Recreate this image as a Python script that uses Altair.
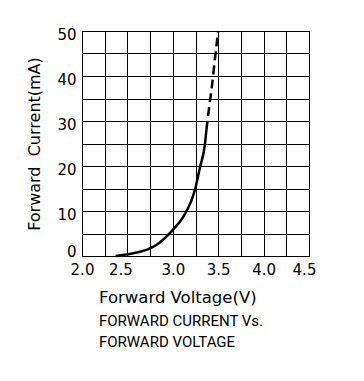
import altair as alt
import pandas as pd

# Solid (measured) part of the curve
solid_v = [2.37, 2.45, 2.565, 2.65, 2.75, 2.85, 3.0, 3.115, 3.245, 3.30, 3.355, 3.37]
solid_i = [0.0, 0.2, 0.6, 1.0, 1.7, 2.9, 5.8, 8.7, 14.8, 19.8, 25.0, 28.0]
# Dashed (extrapolated) part
dash_v = [3.37, 3.40, 3.43, 3.465, 3.50]
dash_i = [28.0, 33.0, 37.6, 44.0, 50.0]

x_grid = [2.0, 2.25, 2.5, 2.75, 3.0, 3.25, 3.5, 3.75, 4.0, 4.25, 4.5]
y_grid = [0, 5, 10, 15, 20, 25, 30, 35, 40, 45, 50]
caption = ["Forward Voltage(V)", "FORWARD CURRENT Vs.", "FORWARD VOLTAGE"]
caption_y = [267, 290, 311]
caption_font = ["DejaVu Sans", "Roboto", "Roboto"]
caption_size = [16.5, 15, 15]

FONT = "DejaVu Sans"

df_solid = pd.DataFrame({"V": solid_v, "I": solid_i})
df_dash = pd.DataFrame({"V": dash_v, "I": dash_i})

xs = alt.Scale(domain=[2.0, 4.5], nice=False, zero=False)
ys = alt.Scale(domain=[0, 50], nice=False)

xaxis = alt.Axis(values=x_grid, grid=True, ticks=False, domain=False,
                 labelExpr="(round(datum.value*100) % 50 == 0) ? format(datum.value, '.1f') : ''",
                 labelFont=FONT, labelFontSize=15, labelColor="black", labelPadding=6,
                 labelOffset=alt.ExprRef(expr="datum.value == 2.5 ? -7 : (datum.value == 4.5 ? -5 : 0)"),
                 gridColor="black", gridOpacity=1, gridWidth=1, title=None, labelFlush=False,
                 labelOverlap=False)
yaxis = alt.Axis(values=y_grid, grid=True, ticks=False, domain=False,
                 labelExpr="(datum.value % 10 == 0) ? datum.label : ''",
                 labelFont=FONT, labelFontSize=15, labelColor="black", labelPadding=6,
                 labelOffset=alt.ExprRef(expr="datum.value == 0 ? -5 : 3"),
                 gridColor="black", gridOpacity=1, gridWidth=1,
                 title="Forward\u00a0 Current(mA)", titleFont=FONT, titleFontSize=16,
                 titleFontWeight="normal", titleColor="black", titlePadding=14,
                 labelFlush=False, labelOverlap=False)

solid = alt.Chart(df_solid).mark_line(color="black", strokeWidth=2.5, interpolate="monotone").encode(
    x=alt.X("V:Q", scale=xs, axis=xaxis),
    y=alt.Y("I:Q", scale=ys, axis=yaxis),
)
dashed = alt.Chart(df_dash).mark_line(color="black", strokeWidth=2.5, strokeDash=[9, 5],
                                      interpolate="monotone").encode(
    x=alt.X("V:Q", scale=xs, axis=xaxis),
    y=alt.Y("I:Q", scale=ys, axis=yaxis),
)

layers = [solid, dashed]
for txt, yy, fnt, fs in zip(caption, caption_y, caption_font, caption_size):
    layers.append(
        alt.Chart(pd.DataFrame({"t": [txt]})).mark_text(
            align="left", baseline="middle", font=fnt, fontSize=fs, color="black", clip=False
        ).encode(x=alt.value(17), y=alt.value(yy), text="t:N")
    )

chart = alt.layer(*layers).properties(
    width=227, height=225,
    autosize=alt.AutoSizeParams(type="none"),
    padding={"left": 74, "top": 23, "right": 40, "bottom": 110},
).configure_view(stroke="black", strokeWidth=1.5).configure(background="white")

chart.save("out.html", embed_options={"renderer": "svg", "actions": False})
